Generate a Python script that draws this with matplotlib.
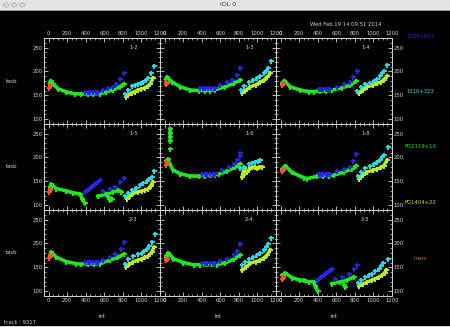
import numpy as np
import matplotlib
matplotlib.use("Agg")
import matplotlib.pyplot as plt
from matplotlib.ticker import MultipleLocator
from matplotlib.patches import Rectangle, Circle

W, H = 450, 327

panels = ["1-2", "1-3", "1-4", "1-5", "1-6", "1-8", "2-3", "2-4", "2-5"]

# green track (None = break in the line)
green = {
    "1-2": ([10, 22, 47, 101, 191, 281, 353, 420, 480, 551, 623, 695, 768, 811],
            [176, 181, 174, 164, 157, 153.5, 152.6, 153, 153, 153.5, 157, 162, 168, 174]),
    "1-3": ([12, 25, 77, 168, 276, 366, 430, 490, 546, 654, 744, 816],
            [184, 189, 178, 168, 161, 160, 160, 160, 162, 168, 175, 182]),
    "1-4": ([20, 40, 103, 211, 301, 355, 420, 490, 553, 662, 751, 816],
            [176, 181, 168, 161, 158, 158, 159, 159, 161, 166, 171, 180]),
    "1-5": ([15, 29, 83, 191, 263, 335, 364, 389, None, 533, 623, 695, 749, 785, None, 640, 659, 680],
            [138, 143.7, 135, 130, 126, 123.5, 114, 104, None, 119, 123.5, 128, 131, 128, None, 118, 111, 114]),
    "1-6": ([20, 35, 88, 168, 276, 366, 430, 490, 546, 582, 672, 762, 816, None, 59, 59, 59, 59, None, 55],
            [192, 196, 174, 166, 161, 161, 162, 163, 164, 164.7, 171.5, 180, 187, None, 260, 252, 243, 235, None, 218]),
    "1-8": ([20, 49, 121, 247, 283, 391, 460, 520, 571, 679, 770, 814],
            [176, 183, 168.5, 158, 155.6, 160.6, 162, 162, 162.5, 169.5, 176, 183]),
    "2-3": ([15, 29, 83, 191, 299, 353, 420, 490, 551, 659, 749, 811],
            [176, 182, 171, 162, 157.5, 156.8, 157, 157, 158, 165, 171, 178]),
    "2-4": ([15, 41, 95, 203, 311, 384, 450, 510, 564, 654, 744, 816],
            [174, 180, 168, 160, 155.5, 155.5, 156, 156, 155.5, 160, 167, 176]),
    "2-5": ([20, 49, 121, 211, 247, 301, 355, 373, 398, None, 553, 643, 715, 787, None, 680, 697],
            [133, 138, 128.5, 123, 123, 119.6, 119.6, 111, 101, None, 116, 119.6, 123, 130, None, 113, 108]),
}

blue = {
    "1-2": ([390, 420, 450, 480, 510, 533, 587, 641, 695, 731, 768, 811],
            [157, 157, 157, 157, 157, 157, 160.6, 165, 168, 174, 184, 197]),
    "1-3": ([384, 410, 440, 470, 500, 530, 546, 600, 672, 726, 780, 816],
            [166, 166, 166, 166, 166, 166, 166, 172, 178, 183, 193, 207]),
    "1-4": ([409, 435, 460, 485, 510, 535, 607, 680, 744, 780, 824],
            [163, 163, 163, 163, 163, 163, 168, 173, 178, 189, 201]),
    "1-5": ([389, 410, 430, 450, 470, 490, 510, 530, 551, 587, 659, 713, 768, 811],
            [128, 131, 134, 137, 140, 143, 146, 149, 152, 130, 133, 139, 149, 158]),
    "1-6": ([402, 430, 460, 490, 520, 546, 618, 690, 744, 780, 816, 816],
            [166, 166, 166, 166, 166, 166, 173, 180, 187, 195, 203, 209]),
    "1-8": ([409, 435, 460, 485, 510, 535, 607, 679, 751, 780, 814],
            [166, 166, 166, 166, 166, 166, 171, 176, 180.6, 192.5, 206.5]),
    "2-3": ([389, 420, 450, 480, 510, 533, 587, 659, 713, 775, 811],
            [160.4, 160.4, 160.4, 160.4, 160.4, 160.4, 165, 172, 178, 189, 203]),
    "2-4": ([402, 430, 460, 490, 520, 546, 600, 672, 744, 780, 816],
            [158.6, 158.6, 158.6, 158.6, 158.6, 158.6, 163.7, 168, 175.6, 184, 198]),
    "2-5": ([391, 410, 430, 450, 470, 490, 510, 530, 553, 589, 661, 733, 787, 823],
            [123, 126, 129, 132, 135, 138, 141, 144, 147, 124.6, 128.8, 135.6, 147, 154]),
}

cyan = {
    "1-2": ([822, 860, 894, 930, 966, 1000, 1020, 1050, 1074, 1099, 1135],
            [153.5, 162, 169, 171, 174.5, 176, 178.5, 182, 187, 197, 212]),
    "1-3": ([827, 860, 906, 950, 996, 1030, 1068, 1090, 1111, 1151],
            [162, 170, 178, 182, 187, 191, 196, 200, 207, 222]),
    "1-4": ([824, 870, 913, 960, 1003, 1040, 1075, 1095, 1111, 1148],
            [160, 168, 173, 176, 180, 185, 191, 196, 201, 214]),
    "1-5": ([822, 860, 894, 940, 984, 1020, 1056, 1085, 1110, 1139],
            [119, 125, 131, 137, 142, 146, 151, 155, 160, 171]),
    "1-6": ([816, 850, 906, 940, 978, 1010, 1032],
            [177, 181, 187, 188, 190, 193, 195]),
    "1-8": ([830, 870, 913, 960, 1003, 1040, 1075, 1095, 1111, 1154],
            [160.6, 170, 178, 182, 186.8, 190, 195, 200, 206, 222]),
    "2-3": ([822, 860, 912, 960, 1002, 1030, 1056, 1085, 1110, 1146],
            [158, 167, 174, 178, 181, 184, 188, 195, 203, 220]),
    "2-4": ([834, 870, 906, 950, 996, 1030, 1068, 1090, 1111, 1151],
            [154, 162, 168, 172, 175.6, 180, 185.8, 192, 199.6, 212]),
    "2-5": ([830, 870, 913, 950, 985, 1020, 1057, 1080, 1104, 1154],
            [117.5, 124, 130, 134, 137, 142, 147, 152, 159, 168]),
}

yellow = {
    "1-2": ([832, 860, 894, 930, 966, 1000, 1038, 1070, 1092, 1128],
            [146.5, 151, 155.5, 158, 162, 163, 166, 170, 174, 187]),
    "1-3": ([834, 870, 924, 980, 1032, 1070, 1104, 1140],
            [155, 160, 168, 172, 178, 182, 188, 197]),
    "1-4": ([841, 885, 932, 990, 1040, 1080, 1111, 1148],
            [154, 161, 168, 171, 175, 178, 183, 191]),
    "1-5": ([840, 875, 912, 960, 1002, 1040, 1074, 1100, 1121],
            [114, 119, 124.6, 128, 130, 132, 135, 141, 149]),
    "1-6": ([834, 852, 870, 888, 920, 942, 970, 996, 1020, 1050],
            [159, 177, 167, 170, 178, 180.5, 179, 177, 179, 180.5]),
    "1-8": ([841, 885, 932, 990, 1040, 1080, 1111, 1148],
            [155.6, 163, 169.5, 173, 176, 179, 183, 195]),
    "2-3": ([832, 870, 912, 960, 1002, 1040, 1074, 1110, 1135],
            [150.9, 156, 162, 165, 168, 171, 174, 182, 192]),
    "2-4": ([834, 880, 924, 980, 1032, 1070, 1104, 1140],
            [143.5, 151, 158.6, 162, 165, 170, 175.6, 187]),
    "2-5": ([841, 885, 932, 980, 1021, 1060, 1093, 1120, 1140],
            [111, 115, 119.6, 123, 126.6, 130, 133.5, 139, 145]),
}

orange = {
    "1-2": ([6, 11, 16], [166, 171, 169]),
    "1-3": ([11, 16, 21], [173, 178, 176]),
    "1-4": ([19, 24, 29], [171, 176, 174]),
    "1-5": ([6, 11, 16], [128, 133, 131]),
    "1-6": ([11, 16, 21], [185, 190, 188]),
    "1-8": ([19, 24, 29], [171, 176, 174]),
    "2-3": ([6, 11, 16], [170, 175, 173]),
    "2-4": ([11, 16, 21], [165, 170, 168]),
    "2-5": ([19, 24, 29], [125, 130, 128.5]),
}

names = ["1208+013", "1310+323", "PG1119+10", "PG1404+22", "mars"]
name_y = [37, 92, 147, 202, 258]

C_GREEN = "#22e622"
C_BLUE = "#2626e6"
C_CYAN = "#22dde6"
C_YELLOW = "#bbee22"
C_ORANGE = "#ff5522"
FG = "#d4d4d4"

fig = plt.figure(figsize=(W / 100, H / 100), dpi=100, facecolor="black")


def fx(p):
    return p / W


def fy(p):
    return 1 - p / H


def arr(v):
    return np.array(v, dtype=float)


for i, name in enumerate(panels):
    r, c = divmod(i, 3)
    left = 44 + 116 * c
    top = 38 + 86 * r
    ax = fig.add_axes([fx(left), fy(top + 86), 116 / W, 86 / H], facecolor="black")
    ax.set_xlim(-50, 1200)
    ax.set_ylim(90, 270)
    for s in ax.spines.values():
        s.set_color(FG)
        s.set_linewidth(0.7)
    ax.xaxis.set_major_locator(MultipleLocator(200))
    ax.xaxis.set_minor_locator(MultipleLocator(50))
    ax.yaxis.set_major_locator(MultipleLocator(50))
    ax.yaxis.set_minor_locator(MultipleLocator(10))
    ax.tick_params(which="both", direction="in", colors=FG, top=True, right=True,
                   labelsize=3.8, labelcolor=FG, pad=1.2)
    ax.tick_params(which="major", length=3, width=0.6)
    ax.tick_params(which="minor", length=1.5, width=0.5)
    ax.tick_params(labelbottom=(r == 2), labeltop=(r == 0),
                   labelleft=(c == 0), labelright=(c == 2))

    mk = dict(marker="+", ms=3.6, mew=1.4)
    gx, gy = green[name]
    ax.plot(arr(gx), arr(gy), color=C_GREEN, lw=2.6, **mk, zorder=2)
    yx, yy = yellow[name]
    ax.plot(arr(yx), arr(yy), color=C_YELLOW, lw=2.4, **mk, zorder=2)
    cx, cy = cyan[name]
    ax.plot(arr(cx), arr(cy), color=C_CYAN, ls="none", **mk, zorder=3)
    bx, by = blue[name]
    ax.plot(arr(bx), arr(by), color=C_BLUE, ls="none", **mk, zorder=4)
    ox, oy = orange[name]
    ax.plot(arr(ox), arr(oy), color=C_ORANGE, lw=1.5, **mk, zorder=5)

    ax.text(0.77, 0.895, name, transform=ax.transAxes, color=FG,
            fontsize=3.8, ha="center", va="center")

    if c == 0:
        fig.text(fx(12), fy(top + 43), "tasb", color=FG, fontsize=3.8,
                 ha="center", va="center")
    if r == 2:
        fig.text(fx(left + 58), fy(316), "int", color=FG, fontsize=3.8,
                 ha="center", va="center")

legend_colors = [C_BLUE, C_CYAN, C_GREEN, C_YELLOW, C_ORANGE]
for txt, yy, col in zip(names, name_y, legend_colors):
    fig.text(fx(420), fy(yy), txt, color=col, fontsize=3.8, ha="center", va="center")

fig.text(fx(382), fy(24), "Wed Feb 19 14:09:51 2014", color=FG, fontsize=3.8,
         ha="right", va="center")
fig.text(fx(4), fy(322), "track : 9317", color=FG, fontsize=3.8,
         ha="left", va="center")

# window title bar
fig.patches.append(Rectangle((0, fy(10)), 1, 10 / H, transform=fig.transFigure,
                             facecolor="#e4e4e4", edgecolor="none", zorder=0))
fig.patches.append(Rectangle((0, fy(10.5)), 1, 0.6 / H, transform=fig.transFigure,
                             facecolor="#9a9a9a", edgecolor="none", zorder=1))
for cxp in [6, 14, 22]:
    fig.patches.append(Circle((fx(cxp), fy(5)), 3 / W, transform=fig.transFigure,
                              facecolor="#d4d4d4", edgecolor="#a8a8a8", lw=0.4))
fig.text(fx(228), fy(5), "IDL 0", color="#404040", fontsize=4.5,
         ha="center", va="center")
fig.patches.append(Rectangle((0, 0), 1, 1.5 / H, transform=fig.transFigure,
                             facecolor="#d8d8d8", edgecolor="none"))

fig.savefig("out.png", dpi=100, facecolor="black")
